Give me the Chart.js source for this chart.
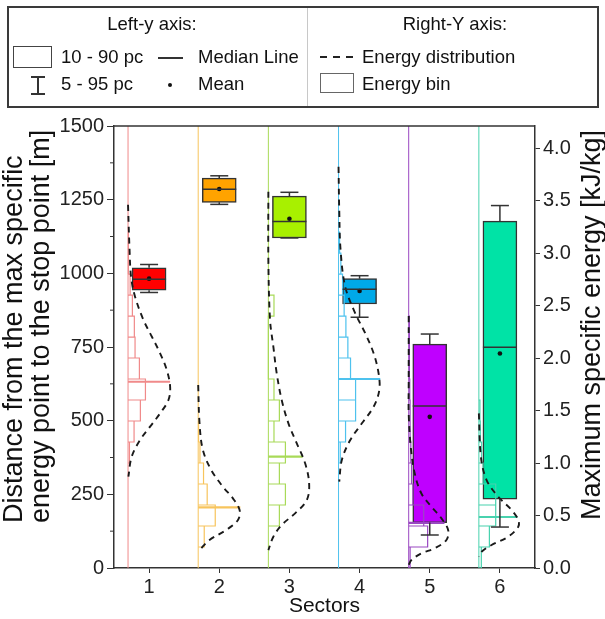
<!DOCTYPE html>
<html>
<head>
<meta charset="utf-8">
<script src="https://cdn.jsdelivr.net/npm/chart.js@4.4.0/dist/chart.umd.min.js"></script>
<style>
    body { margin: 0; background: #fff; font-family: "Liberation Sans", Arial, sans-serif; }
    #wrap { position: relative; width: 605px; height: 619px; overflow: hidden; }
    #chart { position: absolute; left: 0; top: 0; }
    #legendBox { position: absolute; left: 7px; top: 6px; width: 588px; height: 98px; border: 2px solid #3a3a3a; }
    #divider { position: absolute; left: 307px; top: 8px; width: 1px; height: 98px; background: #c8c8c8; }
    .lg { position: absolute; font-size: 18.5px; color: #111; height: 22px; line-height: 22px; white-space: nowrap; }
    .c { transform: translateX(-50%); }
    .sym { position: absolute; }
</style>
</head>
<body>
<div id="wrap">
    <canvas id="chart" width="605" height="619"></canvas>
    <div id="legendBox"></div>
    <div id="divider"></div>

    <div class="lg c" style="left:152px; top:13px;">Left-y axis:</div>
    <div class="lg c" style="left:455px; top:13px;">Right-Y axis:</div>

    <div class="sym" style="left:13px; top:46px; width:37px; height:20px; border:1.5px solid #444;"></div>
    <div class="lg" style="left:61px; top:46px;">10 - 90 pc</div>
    <div class="sym" style="left:158px; top:57px; width:25px; height:1.5px; background:#333;"></div>
    <div class="lg" style="left:198px; top:46px;">Median Line</div>

    <div class="sym" style="left:31px; top:76px; width:14px; height:1.5px; background:#333;"></div>
    <div class="sym" style="left:37px; top:76px; width:1.5px; height:18px; background:#333;"></div>
    <div class="sym" style="left:31px; top:93px; width:14px; height:1.5px; background:#333;"></div>
    <div class="lg" style="left:61px; top:73px;">5 - 95 pc</div>
    <div class="sym" style="left:168px; top:83px; width:4px; height:4px; border-radius:2px; background:#111;"></div>
    <div class="lg" style="left:198px; top:73px;">Mean</div>

    <div class="sym" style="left:320px; top:56px; width:33px; height:2px; background:repeating-linear-gradient(to right, #222 0 7px, transparent 7px 13px);"></div>
    <div class="lg" style="left:362px; top:46px;">Energy distribution</div>
    <div class="sym" style="left:320px; top:73px; width:32px; height:18px; border:1px solid #666;"></div>
    <div class="lg" style="left:362px; top:73px;">Energy bin</div>
</div>

<script>
// distance percentiles per sector (left axis, m)
const sectors = [1, 2, 3, 4, 5, 6];
const p5 = [935, 1234, 1120, 851, 112, 139];
const p10 = [943, 1241, 1120, 896, 154, 234];
const p50 = [980, 1285, 1176, 946, 550, 749];
const means = [982, 1286, 1185, 940, 513, 728];
const p90 = [1019, 1323, 1262, 982, 760, 1177];
const p95 = [1030, 1331, 1275, 992, 794, 1230];

const leftTicks = [0, 250, 500, 750, 1000, 1250, 1500];
const rightTicks = [0, 0.5, 1.0, 1.5, 2.0, 2.5, 3.0, 3.5, 4.0];

// energy histograms (right axis, kJ/kg): first bin lower edge, bin width, share per bin [%]
const binWidth = 0.2;
const binFirst = [1.0, 0.2, 0.4, 1.0, 0.0, 0.0];
const binShares = [
    [2, 8.6, 17.6, 24.8, 16.2, 10, 9, 6.2, 3, 1.2, 1],
    [8.6, 24.3, 12.8, 7.6, 2.5, 1],
    [15.7, 24.3, 15.7, 24.3, 8, 15.7, 8, 0, 0, 0, 8],
    [2.4, 10, 24.3, 24.3, 17.1, 13.3, 10.5, 8, 5.7, 3.3, 1.5],
    [2, 27, 21.4, 6, 4, 3, 2, 2, 1.5, 1, 1, 1],
    [3.5, 15, 24, 24, 6, 4, 2, 1.5]
];

// median energy and the distribution value there [%]
const energyMedian = [1.774, 0.578, 1.06, 1.80, 0.43, 0.486];
const energyMedianShare = [60, 60, 49, 59.5, 51, 55];

// fitted energy distribution curves
const curveEnergy = [
    [3.46, 3.06, 2.775, 2.584, 2.362, 2.203, 2.045, 1.886, 1.727, 1.6, 1.473, 1.346, 1.219, 1.06, 0.87],
    [1.743, 1.378, 1.124, 0.933, 0.774, 0.663, 0.552, 0.457, 0.362, 0.267, 0.171],
    [3.584, 2.933, 2.362, 2.108, 1.854, 1.6, 1.378, 1.187, 0.997, 0.806, 0.648, 0.521, 0.41, 0.298, 0.171],
    [3.822, 3.41, 3.03, 2.68, 2.426, 2.235, 2.045, 1.854, 1.695, 1.536, 1.378, 1.219, 1.029, 0.822],
    [2.4, 1.76, 1.47, 1.155, 0.9, 0.71, 0.584, 0.473, 0.362, 0.267, 0.188, 0.14, 0.076, 0.03],
    [1.473, 1.06, 0.838, 0.679, 0.552, 0.457, 0.393, 0.298, 0.219, 0.155, 0.108]
];
const curveShare = [
    [0, 2, 4.3, 10, 22, 34, 45.7, 55.2, 60, 57.6, 45.7, 31.4, 17.1, 5.2, 0.5],
    [0, 1.9, 6.7, 18.6, 35.2, 49.5, 59, 56.7, 40, 16.1, 1.9],
    [0, 0, 2.4, 7.1, 11.9, 19, 28.6, 40.5, 52.4, 58.1, 54.8, 38.1, 19, 7.1, 0],
    [0, 1, 2.9, 9.5, 23.8, 38.1, 50, 57.1, 58.1, 50, 33.3, 16.7, 4.7, 1],
    [0, 0, 0, 2.9, 8.6, 18.1, 32.4, 46.7, 56.2, 53.8, 37.1, 18.1, 3.9, 0],
    [0, 2.9, 11, 27.6, 46.7, 56.2, 56.2, 41.9, 18.1, 3.8, 0]
];

const leftTitle = ['Distance from the max specific', 'energy point to the stop point [m]'];
const rightTitle = 'Maximum specific energy [kJ/kg]';

const boxColors = ['#FF0000', '#FFA300', '#A8F000', '#00A9E8', '#BF00FF', '#00E3A6'];
const lineColors = ['#F08A8A', '#F7C45C', '#A8DA58', '#4EC2EE', '#9A48C2', '#48D2AE'];
const FONT = '"Liberation Sans", Arial, sans-serif';
const LINE_SHIFT = 0.3; // histogram baseline sits left of each sector

function baseX(i) {
    return sectors[i] - LINE_SHIFT;
}

function binOutline(i) {
    const base = baseX(i);
    const pts = [];
    binShares[i].forEach((share, k) => {
        const lo = binFirst[i] + k * binWidth;
        const x = base + share / 100;
        pts.push({ x: base, y: lo }, { x: x, y: lo }, { x: x, y: lo + binWidth }, { x: base, y: lo + binWidth });
    });
    return pts;
}

const datasets = [];

datasets.push({
    type: 'bar',
    data: sectors.map((s, i) => ({ x: s, y: [p10[i], p90[i]] })),
    backgroundColor: boxColors,
    borderColor: '#333',
    borderWidth: 1.5,
    borderSkipped: false,
    barThickness: 34,
    yAxisID: 'y',
    order: 10
});

sectors.forEach((s, i) => {
    datasets.push({
        type: 'line',
        data: [{ x: baseX(i), y: 0 }, { x: baseX(i), y: 1500 }],
        borderColor: lineColors[i],
        borderWidth: 1,
        pointRadius: 0,
        yAxisID: 'y',
        order: 9
    });
    datasets.push({
        type: 'line',
        data: binOutline(i),
        borderColor: lineColors[i],
        borderWidth: 1.2,
        pointRadius: 0,
        tension: 0,
        yAxisID: 'y2',
        order: 5
    });
    datasets.push({
        type: 'line',
        data: [{ x: baseX(i), y: energyMedian[i] }, { x: baseX(i) + energyMedianShare[i] / 100, y: energyMedian[i] }],
        borderColor: lineColors[i],
        borderWidth: 2.2,
        pointRadius: 0,
        yAxisID: 'y2',
        order: 4
    });
    datasets.push({
        type: 'line',
        data: curveEnergy[i].map((e, k) => ({ x: baseX(i) + curveShare[i][k] / 100, y: e })),
        borderColor: '#1a1a1a',
        borderWidth: 1.9,
        borderDash: [6, 5],
        pointRadius: 0,
        tension: 0.35,
        yAxisID: 'y2',
        order: 3
    });
});

// whisker stems
const stems = [];
sectors.forEach((s, i) => {
    stems.push({ x: s, y: p90[i] }, { x: s, y: p95[i] }, { x: s, y: null });
    stems.push({ x: s, y: p10[i] }, { x: s, y: p5[i] }, { x: s, y: null });
});
datasets.push({
    type: 'line',
    data: stems,
    borderColor: '#333',
    borderWidth: 1.5,
    pointRadius: 0,
    spanGaps: false,
    yAxisID: 'y',
    order: 2
});
datasets.push({
    type: 'scatter',
    data: sectors.map((s, i) => ({ x: s, y: p95[i] })).concat(sectors.map((s, i) => ({ x: s, y: p5[i] }))),
    pointStyle: 'line',
    pointRadius: 9,
    borderColor: '#333',
    borderWidth: 1.5,
    yAxisID: 'y',
    order: 2
});
datasets.push({
    type: 'scatter',
    data: sectors.map((s, i) => ({ x: s, y: p50[i] })),
    pointStyle: 'line',
    pointRadius: 17,
    borderColor: '#333',
    borderWidth: 1.5,
    yAxisID: 'y',
    order: 1
});
datasets.push({
    type: 'scatter',
    data: sectors.map((s, i) => ({ x: s, y: means[i] })),
    pointStyle: 'circle',
    pointRadius: 2.3,
    backgroundColor: '#111',
    borderWidth: 0,
    yAxisID: 'y',
    order: 1
});

const framePlugin = {
    id: 'frame',
    afterDraw(chart) {
        const { ctx, chartArea: a, scales } = chart;
        ctx.save();
        ctx.strokeStyle = '#333';
        ctx.lineWidth = 1.5;
        ctx.beginPath();
        ctx.moveTo(a.left, a.top);
        ctx.lineTo(a.right, a.top);
        ctx.stroke();

        // minor ticks on the left axis
        const y = scales.y;
        ctx.lineWidth = 1;
        for (let k = 1; k < y.ticks.length; k++) {
            const py = y.getPixelForValue((y.ticks[k].value + y.ticks[k - 1].value) / 2);
            ctx.beginPath();
            ctx.moveTo(a.left - 4, py);
            ctx.lineTo(a.left, py);
            ctx.stroke();
        }

        ctx.fillStyle = '#111';
        ctx.font = '27px ' + FONT;
        ctx.textBaseline = 'middle';
        ctx.save();
        ctx.translate(15, 523);
        ctx.rotate(-Math.PI / 2);
        ctx.textAlign = 'left';
        ctx.fillText(leftTitle[0], 0, 0);
        ctx.fillText(leftTitle[1], 0, 27);
        ctx.restore();

        ctx.translate(593, 325);
        ctx.rotate(-Math.PI / 2);
        ctx.textAlign = 'center';
        ctx.fillText(rightTitle, 0, 0);
        ctx.restore();
    }
};

const tickFont = { family: FONT, size: 20 };

new Chart(document.getElementById('chart'), {
    type: 'bar',
    data: { datasets: datasets },
    plugins: [framePlugin],
    options: {
        responsive: false,
        animation: false,
        devicePixelRatio: 1,
        layout: { padding: { top: 126, left: 0, right: 0, bottom: 0 } },
        plugins: { legend: { display: false }, tooltip: { enabled: false } },
        scales: {
            x: {
                type: 'linear',
                min: 0.5,
                max: 6.5,
                offset: false,
                afterBuildTicks: s => { s.ticks = sectors.map(v => ({ value: v })); },
                afterFit: s => { s.height = 51; },
                ticks: { font: tickFont, color: '#222', padding: 2, maxRotation: 0 },
                grid: { drawOnChartArea: false, offset: false, tickLength: 5, tickColor: '#333' },
                border: { color: '#333', width: 1.5 },
                title: { display: true, text: 'Sectors', font: { family: FONT, size: 21 }, color: '#111', padding: 0 }
            },
            y: {
                position: 'left',
                min: 0,
                max: 1500,
                afterBuildTicks: s => { s.ticks = leftTicks.map(v => ({ value: v })); },
                ticks: { font: tickFont, color: '#222', padding: 3, callback: v => String(v) },
                afterFit: s => { s.width = 114; },
                grid: { drawOnChartArea: false, tickLength: 7, tickColor: '#333' },
                border: { color: '#333', width: 1.5 }
            },
            y2: {
                position: 'right',
                min: 0,
                max: 4.21,
                afterBuildTicks: s => { s.ticks = rightTicks.map(v => ({ value: v })); },
                ticks: { font: tickFont, color: '#222', padding: 3, callback: v => v.toFixed(1) },
                afterFit: s => { s.width = 70; },
                grid: { drawOnChartArea: false, tickLength: 5, tickColor: '#333' },
                border: { color: '#333', width: 1.5 }
            }
        }
    }
});
</script>
</body>
</html>
